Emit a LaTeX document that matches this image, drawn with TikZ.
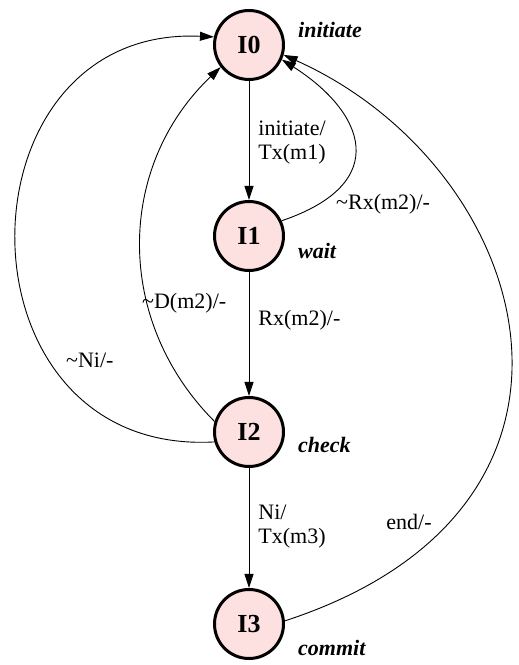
\documentclass[tikz,border=0pt]{standalone}
\usepackage{fontspec}
\setmainfont{Liberation Serif}
\usepackage{tikz}
\usetikzlibrary{arrows.meta, positioning}
\usepackage{xcolor}
\definecolor{statepink}{HTML}{FDE0E0}

\begin{document}
\begin{tikzpicture}[x=1pt, y=1pt,
    state/.style={circle, draw, line width=3pt, fill=statepink, minimum size=69pt, inner sep=0pt, font=\fontsize{26}{28}\selectfont\bfseries},
    trans/.style={line width=0.9pt, -{Triangle[length=14pt, width=9pt]}},
    lbl/.style={font=\fontsize{22}{24}\selectfont, align=left, inner sep=1pt},
    sname/.style={font=\fontsize{22}{24}\selectfont\bfseries\itshape, anchor=west, inner sep=0pt}]
        \useasboundingbox (0,0) rectangle (519,665);
        \foreach \i/\y in {0/620, 1/429, 2/233, 3/41}{
          \node[state] (I\i) at (249,\y) {I\i};
        }
        \node[sname] (s0) at (298,635) {initiate};
        \node[sname] (s1) at (298,414) {wait};
        \node[sname] (s2) at (298,220) {check};
        \node[sname] (s3) at (298,17) {commit};
        \draw[trans] (I0) -- node[lbl, pos=0.52, right=8pt] {initiate/\\Tx(m1)} (I1);
        \draw[trans] (I1) -- node[lbl, pos=0.39, right=8pt] {Rx(m2)/-} (I2);
        \draw[trans] (I2) -- node[lbl, pos=0.49, right=8pt] {Ni/\\Tx(m3)} (I3);
        \draw[trans] (I2.196) .. controls +(-265,-15) and +(-262,12) .. (I0.167);
        \draw[trans] (I2.163) .. controls +(-100,100) and +(-105,-100) .. (I0.218);
        \draw[trans] (I1.25) .. controls +(112,38) and +(82,-52) .. (I0.-24);
        \draw[trans] (I3.5) .. controls +(350,114) and +(250,-112) .. (I0.-16);
        \node[lbl, anchor=west] (l0) at (335,461) {\textasciitilde Rx(m2)/-};
        \node[lbl, anchor=west] (l1) at (141,362) {\textasciitilde D(m2)/-};
        \node[lbl, anchor=west] (l2) at (65,305) {\textasciitilde Ni/-};
        \node[lbl] (l3) at (409,143) {end/-};
\end{tikzpicture}
\end{document}
